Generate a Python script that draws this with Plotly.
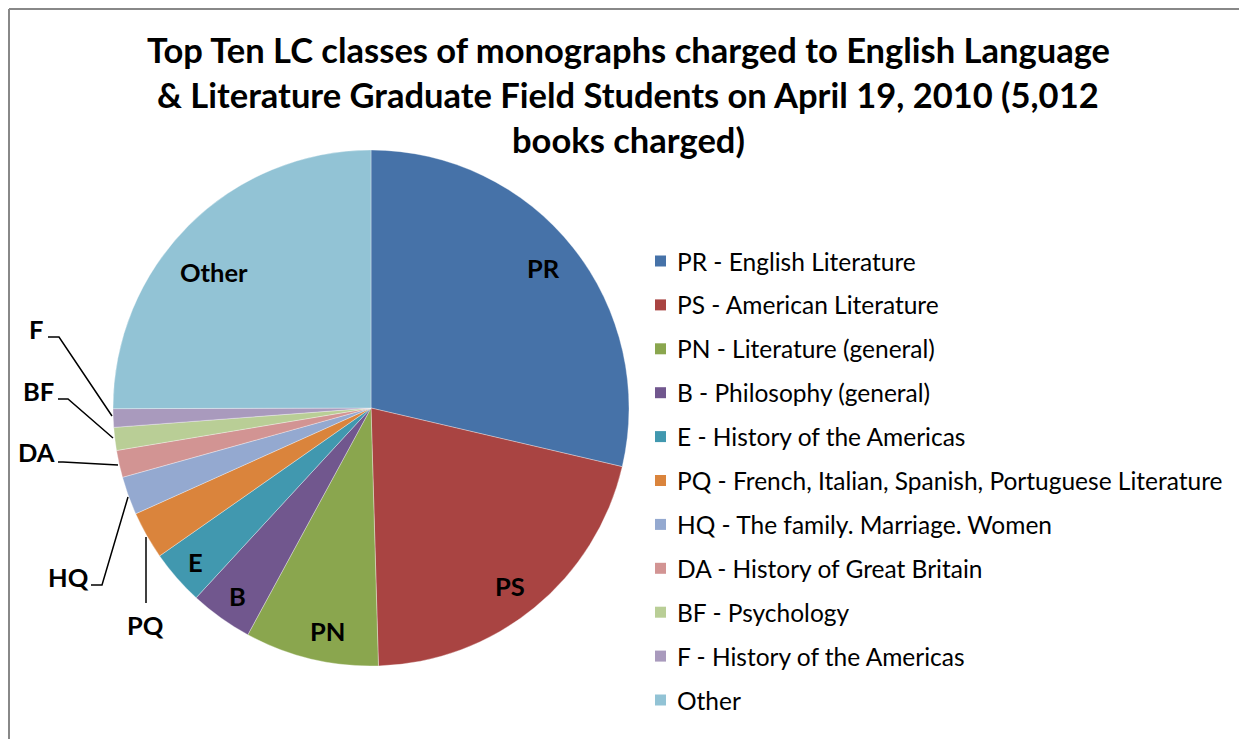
import plotly.graph_objects as go

# Page body has an 8px margin: the figure is sized so it fits exactly,
# and reference pixel positions are converted accordingly.
OFF = 8
W, H = 1247 - 2 * OFF, 747 - 2 * OFF

# ---------------- data ----------------
classes = ["PR", "PS", "PN", "B", "E", "PQ", "HQ", "DA", "BF", "F", "Other"]
descriptions = [
    "PR - English Literature",
    "PS - American Literature",
    "PN - Literature (general)",
    "B - Philosophy (general)",
    "E - History of the Americas",
    "PQ - French, Italian, Spanish, Portuguese Literature",
    "HQ - The family. Marriage. Women",
    "DA - History of Great Britain",
    "BF - Psychology",
    "F - History of the Americas",
    "Other",
]
books_charged = [1436, 1047, 420, 197, 172, 150, 120, 85, 72, 58, 1255]
colors = ["#4672A8", "#A94442", "#8AA64E", "#71578E", "#4198AF", "#DA843C",
          "#94A9D0", "#D29493", "#B9CE96", "#A99ABD", "#92C3D5"]
title_lines = [
    "Top Ten LC classes of monographs charged to English Language",
    "& Literature Graduate Field Students on April 19, 2010 (5,012",
    "books charged)",
]

# ---------------- helpers (screen pixel -> paper) ----------------
def px(x):
    return (x - OFF) / W

def py(y):
    return 1 - (y - OFF) / H

FONT = "Lato"

fig = go.Figure()
fig.add_trace(go.Pie(
    labels=descriptions,
    values=books_charged,
    sort=False,
    direction="clockwise",
    rotation=0,
    textinfo="none",
    hoverinfo="label+value+percent",
    marker=dict(colors=colors, line=dict(color="rgba(255,255,255,0.55)", width=0.6)),
    domain=dict(x=[px(113), px(629)], y=[py(666), py(150)]),
    showlegend=False,
))

annotations = []
shapes = []

# title
for i, line in enumerate(title_lines):
    annotations.append(dict(
        text="<b>" + line + "</b>", x=px(628), y=py(50 + 44.5 * i),
        xref="paper", yref="paper", xanchor="center", yanchor="middle",
        showarrow=False, font=dict(family=FONT, size=34.5, color="#000000")))

# slice labels (pixel positions are styling)
label_pos = {
    "PR": (543, 268), "PS": (510, 586), "PN": (327, 631), "B": (237, 596),
    "E": (196, 562), "Other": (214, 272),
    "F": (36, 329), "BF": (38, 391), "DA": (36, 452), "HQ": (68, 577), "PQ": (145, 625),
}
for c in classes:
    x, y = label_pos[c]
    annotations.append(dict(
        text="<b>" + c + "</b>", x=px(x), y=py(y), xref="paper", yref="paper",
        xanchor="center", yanchor="middle", showarrow=False,
        font=dict(family=FONT, size=25.5, color="#000000")))

# leader lines
leaders = [
    [(48, 337), (59, 337), (112, 416)],
    [(58, 399), (68, 399), (113, 438)],
    [(58, 462), (63, 462), (118, 465)],
    [(91, 585), (102, 585), (128, 497)],
    [(146, 603), (146, 537)],
]
for pts in leaders:
    path = "M " + " L ".join(f"{px(x)},{py(y)}" for x, y in pts)
    shapes.append(dict(type="path", path=path, xref="paper", yref="paper",
                       line=dict(color="#000000", width=1.5)))

# legend (manual, to reproduce spacing)
for i, (name, col) in enumerate(zip(descriptions, colors)):
    yc = 261 + 43.9 * i
    shapes.append(dict(type="rect", xref="paper", yref="paper",
                       x0=px(655), x1=px(666), y0=py(yc - 5.5), y1=py(yc + 5.5),
                       fillcolor=col, line=dict(width=0)))
    annotations.append(dict(
        text=name, x=px(675), y=py(yc), xref="paper", yref="paper",
        xanchor="left", yanchor="middle", showarrow=False,
        font=dict(family=FONT, size=24.5, color="#000000")))

# chart border (top and left visible)
shapes.append(dict(type="line", xref="paper", yref="paper",
                   x0=px(9), x1=1, y0=py(9), y1=py(9), line=dict(color="#888888", width=2)))
shapes.append(dict(type="line", xref="paper", yref="paper",
                   x0=px(9), x1=px(9), y0=py(9), y1=0, line=dict(color="#888888", width=2)))

fig.update_layout(
    width=W, height=H, autosize=False,
    margin=dict(l=0, r=0, t=0, b=0),
    paper_bgcolor="white", plot_bgcolor="white",
    annotations=annotations, shapes=shapes,
    showlegend=False,
)

fig.write_html("out.html")
